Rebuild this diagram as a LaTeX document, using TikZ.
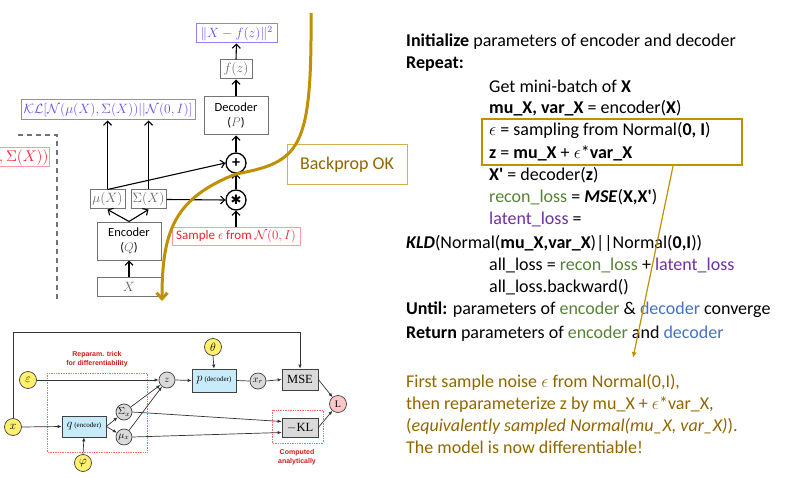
\documentclass[tikz,border=0pt]{standalone}
\usepackage{fix-cm}
\usepackage{fontspec}
\setmainfont{Carlito}
\newfontfamily\paperfont{Liberation Serif}
\newfontfamily\tagfont{Liberation Sans}
\newfontfamily\symfont{DejaVu Sans}
\usetikzlibrary{arrows.meta,calc}
\definecolor{gold}{RGB}{191,144,0}
\definecolor{okbrown}{RGB}{145,102,0}
\definecolor{rgreen}{RGB}{84,130,53}
\definecolor{lpurple}{RGB}{112,48,160}
\definecolor{dblue}{RGB}{68,114,196}
\definecolor{klblue}{RGB}{100,80,235}
\definecolor{klframe}{RGB}{150,125,255}
\definecolor{sred}{RGB}{250,30,50}
\definecolor{pyellow}{RGB}{255,240,110}
\definecolor{pblue}{RGB}{200,235,250}
\definecolor{pgray}{RGB}{218,218,218}
\definecolor{ppink}{RGB}{250,200,200}
\definecolor{pred}{RGB}{200,30,30}
\tikzset{
  gbox/.style={draw=black!55, line width=1pt, inner sep=1pt, text=black!60, font=\fontsize{13.5}{15}\selectfont},
  nbox/.style={draw=black!55, line width=1pt, inner sep=1pt, align=center, font=\fontsize{12.5}{15}\selectfont},
  vbox/.style={draw=klframe, line width=1pt, inner sep=1pt, text=klblue, font=\fontsize{13.5}{15}\selectfont},
  rbox/.style={draw=sred!45, line width=1pt, inner sep=1pt, text=sred, font=\fontsize{13.5}{15}\selectfont},
  op/.style={circle, draw, line width=1.3pt, minimum size=20, inner sep=0pt, font=\fontsize{16}{16}\selectfont},
  flow/.style={-{Straight Barb[length=4pt,width=8pt]}, line width=1.1pt},
  goldline/.style={draw=gold, line width=3pt, -{Straight Barb[length=6pt,width=11pt]}},
  okbox/.style={draw=gold!70, line width=1pt, text=okbrown, font=\fontsize{18}{22}\selectfont},
  codeline/.style={anchor=base west, inner sep=0pt, font=\fontsize{18}{22}\selectfont},
  noteline/.style={codeline, text=okbrown},
  goldbox/.style={draw=gold, line width=2.5pt, inner sep=0pt},
  goldthin/.style={draw=gold, line width=1.2pt, -{Latex[length=6pt,width=5pt]}},
  yvar/.style={circle, draw=black!75, fill=pyellow, line width=0.7pt, minimum size=17, inner sep=0pt, font=\paperfont\fontsize{12}{12}\selectfont},
  hvar/.style={circle, draw=black!75, fill=pgray, line width=0.7pt, minimum size=16, inner sep=0pt, font=\paperfont\fontsize{10}{10}\selectfont},
  netbox/.style={draw=black!75, fill=pblue, line width=0.7pt, inner sep=1pt, font=\paperfont\fontsize{12}{12}\selectfont},
  lossbox/.style={draw=black!75, fill=pgray, line width=0.7pt, inner sep=1pt, font=\paperfont\fontsize{12.5}{12.5}\selectfont},
  pflow/.style={-{Latex[length=4pt,width=3.5pt]}, line width=0.7pt, draw=black!80},
  reddot/.style={draw=red!60, densely dotted, line width=0.7pt},
  redtag/.style={text=pred, align=center, font=\tagfont\bfseries\fontsize{7}{9}\selectfont}
}
\begin{document}
\begin{tikzpicture}[x=1pt,y=-1pt]
		\useasboundingbox (0,0) rectangle (799,478);
		%%%%% START %%%%%

		% top left: the network with the sampling trick
		\draw[black!55, line width=1.3pt, dash pattern=on 5pt off 4pt] (18,135) -- (57,135) -- (57,302);
		\begin{scope}
			\clip (0,140) rectangle (56,175);
			\node[rbox, anchor=east, minimum height=19, font=\fontsize{15.5}{16}\selectfont] (oldnorm) at (50,157.5) {$\mathcal{N}(\mu(X),\Sigma(X))$};
		\end{scope}

		\node[vbox, minimum width=174, minimum height=20] (kl) at (108,110) {$\mathcal{KL}[\mathcal{N}(\mu(X),\Sigma(X))||\mathcal{N}(0,I)]$};
		\node[vbox, minimum width=81, minimum height=19] (sqerr) at (236.5,33.5) {$\|X-f(z)\|^2$};
		\node[gbox, minimum width=32, minimum height=19] (fz) at (236,69.5) {$f(z)$};
		\node[nbox, minimum width=64, minimum height=38] (dec) at (236,116) {Decoder\\(${\color{black!60}P}$)};
		\node[op] (plus) at (236,163) {\textbf{+}};
		\node[op] (times) at (236,200) {{\symfont\fontsize{13}{13}\selectfont ✱}};
		\node[rbox, minimum width=128, minimum height=18] (sample) at (236,236) {\fontsize{13}{15}\selectfont Sample $\epsilon$ from $\mathcal{N}(0,I)$};
		\node[gbox, minimum width=35, minimum height=19] (mu) at (107.5,199.5) {$\mu(X)$};
		\node[gbox, minimum width=35, minimum height=19] (sig) at (148.5,199.5) {$\Sigma(X)$};
		\node[nbox, minimum width=64, minimum height=38] (enc) at (129,241) {Encoder\\(${\color{black!60}Q}$)};
		\node[gbox, minimum width=64, minimum height=19] (xin) at (129,286.5) {$X$};

		\draw[flow] (mu.north) -- (mu.north |- kl.south);
		\draw[flow] (sig.north) -- (sig.north |- kl.south);
		\draw[flow] (mu.north) -- (plus.west);
		\draw[flow] (sig.east) -- (times.west);
		\draw[flow] (enc.north) -- (mu.south);
		\draw[flow] (enc.north) -- (sig.south);
		\draw[flow] (xin.north) -- (enc.south);
		\draw[flow] (sample.north) -- (times.south);
		\draw[flow] (times.north) -- (plus.south);
		\draw[flow] (plus.north) -- (dec.south);
		\draw[flow] (dec.north) -- (fz.south);
		\draw[flow] (fz.north) -- (sqerr.south);

		\node[okbox, minimum width=120, minimum height=40] (bpok) at (347,165) {Backprop OK};
		\coordinate (gstart) at (311,13);
		\coordinate (gend) at (162,301);
		\draw[goldline] (gstart) .. controls (312,150) and (300,162) .. (236,174) .. controls (175,198) and (162,230) .. (gend);

		% right: the training loop
		\node[codeline] (l1) at (406,47) {\textbf{Initialize} parameters of encoder and decoder};
		\node[codeline] (l2) at (406,69) {\textbf{Repeat:}};
		\node[codeline] (l3) at (489,93) {Get mini-batch of \textbf{X}};
		\node[codeline] (l4) at (489,114) {\textbf{mu\_X, var\_X} = encoder(\textbf{X})};
		\node[codeline] (l5) at (489,136) {$\epsilon$ = sampling from Normal(\textbf{0, I})};
		\node[codeline] (l6) at (489,159) {\textbf{z} = \textbf{mu\_X} + $\epsilon$*\textbf{var\_X}};
		\node[codeline] (l7) at (489,181) {\textbf{X\textquotesingle} = decoder(\textbf{z})};
		\node[codeline] (l8) at (489,203) {{\color{rgreen}recon\_loss} = \textbf{\textit{MSE}}(\textbf{X,X\textquotesingle})};
		\node[codeline] (l9) at (489,225) {{\color{lpurple}latent\_loss} =};
		\node[codeline] (l10) at (406,248) {\textbf{\textit{KLD}}(Normal(\textbf{mu\_X,var\_X})||Normal(\textbf{0,I}))};
		\node[codeline] (l11) at (489,270) {all\_loss = {\color{rgreen}recon\_loss} + {\color{lpurple}latent\_loss}};
		\node[codeline] (l12) at (489,292) {all\_loss.backward()};
		\node[codeline] (l13) at (406,314) {\textbf{Until:} parameters of {\color{rgreen}encoder} \& {\color{dblue}decoder} converge};
		\node[codeline] (l14) at (406,338) {\textbf{Return} parameters of {\color{rgreen}encoder} and {\color{dblue}decoder}};

		\node[goldbox, minimum width=260, minimum height=46] (reparam) at (612,142) {};
		\coordinate (notetip) at (633,358);
		\draw[goldthin] ($(reparam.south)+(61,0)$) -- (notetip);

		\node[noteline] (n1) at (406,387) {First sample noise $\epsilon$ from Normal(0,I),};
		\node[noteline] (n2) at (406,409) {then reparameterize z by mu\_X + $\epsilon$*var\_X,};
		\node[noteline] (n3) at (406,431) {(\textit{equivalently sampled Normal(mu\_X, var\_X)}).};
		\node[noteline] (n4) at (406,453) {The model is now differentiable!};

		% bottom left: computation graph
		\draw[reddot] (47,373) rectangle (147,452);
		\draw[reddot] (272,410) rectangle (323,443);
		\node[redtag] (tagrep) at (97,359.5) {Reparam. trick\\for differentiability};
		\node[redtag] (tagkl) at (297,457) {Computed\\analytically};

		\node[yvar] (bx) at (13,427) {$x$};
		\node[yvar] (beps) at (28,380) {$\varepsilon$};
		\node[yvar] (bphi) at (83,463) {$\varphi$};
		\node[yvar] (btheta) at (213,347) {$\theta$};
		\node[netbox, minimum width=44, minimum height=21] (bq) at (84,426.5) {$q$\,{\fontsize{7}{7}\selectfont(encoder)}};
		\node[hvar] (bsig) at (124,412) {$\Sigma_x$};
		\node[hvar] (bmu) at (124,437) {$\mu_x$};
		\node[hvar] (bz) at (167,380) {$z$};
		\node[netbox, minimum width=44, minimum height=23] (bp) at (214,380.5) {$p$\,{\fontsize{7}{7}\selectfont(decoder)}};
		\node[hvar] (bxr) at (258,381) {$x_r$};
		\node[lossbox, minimum width=36, minimum height=21] (bmse) at (300,379.5) {MSE};
		\node[lossbox, minimum width=36, minimum height=19] (bkl) at (300,427.5) {$-$KL};
		\node[hvar, fill=ppink, minimum size=17] (bL) at (338,404) {L};

		\coordinate (btop) at (300,332);
		\draw[pflow] (bx.north) |- (btop) -- (bmse.north);
		\draw[pflow] (bx.east) -- (bq.west);
		\draw[pflow] (beps.east) -- (bz.west);
		\draw[pflow] (bphi.north) -- (bq.south);
		\draw[pflow] (bq.east) -- (bsig);
		\draw[pflow] (bq.east) -- (bmu);
		\draw[pflow] (bsig) -- (bz);
		\draw[pflow] (bmu) -- (bz);
		\draw[pflow] (bz.east) -- (bp.west);
		\draw[pflow] (btheta.south) -- (bp.north);
		\draw[line width=0.7pt, black!80] (bp.east) -- (bxr.west);
		\draw[pflow] (bxr.east) -- (bmse.west);
		\draw[pflow] (bsig.east) -- ($(bkl.west)+(0,-6)$);
		\draw[pflow] (bmu.east) -- ($(bkl.west)+(0,5)$);
		\draw[pflow] (bmse.east) -- (bL);
		\draw[pflow] (bkl.east) -- (bL);

		%%%%% END %%%%%
	\end{tikzpicture}
\end{document}
